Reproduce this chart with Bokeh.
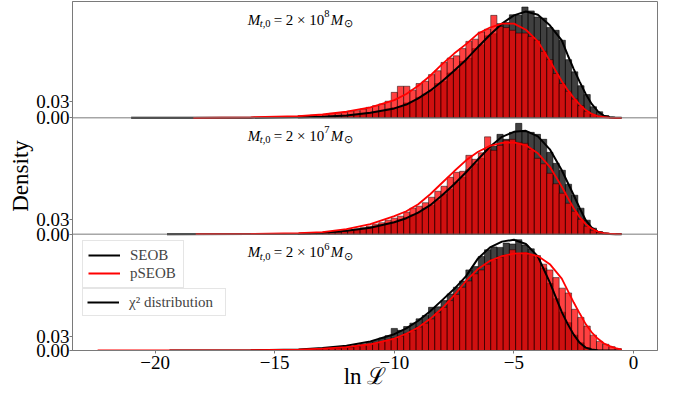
import numpy as np
from bokeh.plotting import figure
from bokeh.models import (Range1d, FixedTicker, Label, Legend, LegendItem, Span,
                          CustomJSTickFormatter)
from bokeh.embed import file_html
from bokeh.resources import INLINE

# ---------------- data ----------------
mass_exponents = ["8", "7", "6"]          # top to bottom
x_ticks = [-20, -15, -10, -5, 0]
y_ticks = [0.0, 0.03]

bin_first_center = -13.90
bin_width = 0.26

seob_hist = {
    "8": [0.001, 0.001, 0.002, 0.002, 0.002, 0.003, 0.003, 0.004,
          0.005, 0.006, 0.008, 0.009, 0.011, 0.012, 0.016, 0.018,
          0.020, 0.027, 0.030, 0.037, 0.043, 0.050, 0.062, 0.066,
          0.081, 0.087, 0.102, 0.108, 0.125, 0.132, 0.148, 0.152,
          0.170, 0.172, 0.186, 0.185, 0.200, 0.193, 0.182, 0.180,
          0.163, 0.158, 0.140, 0.105, 0.083, 0.058, 0.042, 0.020,
          0.011, 0.004, 0.001, 0.000],
    "7": [0.001, 0.001, 0.002, 0.003, 0.003, 0.004, 0.005, 0.006,
          0.008, 0.010, 0.011, 0.014, 0.016, 0.019, 0.022, 0.024,
          0.029, 0.033, 0.039, 0.044, 0.052, 0.058, 0.068, 0.080,
          0.090, 0.104, 0.114, 0.129, 0.141, 0.152, 0.170, 0.176,
          0.200, 0.190, 0.204, 0.222, 0.205, 0.204, 0.200, 0.190,
          0.164, 0.142, 0.128, 0.100, 0.078, 0.052, 0.028, 0.012,
          0.005, 0.001, 0.0005, 0.0],
    "6": [0.002, 0.002, 0.003, 0.004, 0.004, 0.005, 0.006, 0.008,
          0.009, 0.012, 0.014, 0.017, 0.021, 0.026, 0.031, 0.046,
          0.042, 0.050, 0.057, 0.066, 0.073, 0.090, 0.091, 0.104,
          0.118, 0.132, 0.145, 0.168, 0.175, 0.196, 0.210, 0.216,
          0.215, 0.224, 0.222, 0.231, 0.220, 0.212, 0.195, 0.172,
          0.140, 0.108, 0.080, 0.058, 0.032, 0.016, 0.006, 0.002,
          0.0005, 0.0, 0.0, 0.0],
}

pseob_hist = {
    "8": [0.004, 0.004, 0.005, 0.006, 0.006, 0.008, 0.008, 0.010,
          0.012, 0.013, 0.016, 0.019, 0.022, 0.025, 0.030, 0.046,
          0.057, 0.057, 0.050, 0.062, 0.066, 0.078, 0.085, 0.100,
          0.108, 0.112, 0.125, 0.138, 0.142, 0.155, 0.160, 0.185,
          0.165, 0.163, 0.158, 0.153, 0.153, 0.147, 0.140, 0.120,
          0.105, 0.080, 0.062, 0.048, 0.034, 0.022, 0.012, 0.006,
          0.003, 0.001, 0.001, 0.0005],
    "7": [0.001, 0.001, 0.002, 0.002, 0.003, 0.003, 0.004, 0.006,
          0.008, 0.010, 0.013, 0.016, 0.020, 0.023, 0.028, 0.032,
          0.036, 0.044, 0.052, 0.056, 0.063, 0.074, 0.086, 0.096,
          0.114, 0.124, 0.126, 0.158, 0.150, 0.163, 0.195, 0.168,
          0.178, 0.188, 0.190, 0.184, 0.182, 0.170, 0.152, 0.141,
          0.122, 0.101, 0.082, 0.062, 0.046, 0.030, 0.016, 0.008,
          0.004, 0.002, 0.001, 0.0005],
    "6": [0.002, 0.002, 0.003, 0.003, 0.004, 0.005, 0.005, 0.006,
          0.007, 0.009, 0.011, 0.013, 0.016, 0.019, 0.022, 0.026,
          0.030, 0.036, 0.042, 0.049, 0.057, 0.066, 0.079, 0.090,
          0.104, 0.117, 0.132, 0.145, 0.160, 0.168, 0.180, 0.190,
          0.195, 0.199, 0.210, 0.202, 0.204, 0.200, 0.198, 0.180,
          0.168, 0.152, 0.130, 0.120, 0.086, 0.069, 0.051, 0.032,
          0.019, 0.013, 0.008, 0.004],
}

curve_x = [-16, -14, -13, -12, -11, -10, -9.5, -9, -8.5, -8, -7.5, -7, -6.5,
           -6, -5.5, -5, -4.5, -4, -3.5, -3, -2.75, -2.5, -2.25, -2, -1.75,
           -1.5, -1.25, -1.0, -0.75, -0.5]

seob_curve_start = {"8": -21.0, "7": -19.5, "6": -19.4}
pseob_curve_start = {"8": -18.4, "7": -18.3, "6": -22.4}

seob_curve = {
    "8": [0.0003, 0.001, 0.002, 0.004, 0.009, 0.017, 0.024, 0.035, 0.049, 0.066,
          0.085, 0.105, 0.128, 0.150, 0.170, 0.185, 0.192, 0.186, 0.167, 0.140,
          0.113, 0.088, 0.065, 0.043, 0.025, 0.012, 0.004, 0.001, 0.0, 0.0],
    "7": [0.0003, 0.001, 0.003, 0.007, 0.013, 0.024, 0.032, 0.043, 0.058, 0.078,
          0.100, 0.124, 0.150, 0.175, 0.195, 0.205, 0.207, 0.196, 0.170, 0.128,
          0.103, 0.078, 0.052, 0.028, 0.013, 0.005, 0.002, 0.0005, 0.0, 0.0],
    "6": [0.0005, 0.002, 0.005, 0.010, 0.019, 0.034, 0.046, 0.062, 0.082, 0.105,
          0.128, 0.155, 0.192, 0.215, 0.227, 0.231, 0.222, 0.196, 0.142, 0.080,
          0.055, 0.033, 0.016, 0.006, 0.002, 0.0005, 0.0, 0.0, 0.0, 0.0],
}

pseob_curve = {
    "8": [0.001, 0.003, 0.006, 0.011, 0.019, 0.032, 0.043, 0.058, 0.076, 0.097,
          0.116, 0.133, 0.152, 0.163, 0.170, 0.170, 0.159, 0.138, 0.103, 0.066,
          0.050, 0.036, 0.024, 0.014, 0.007, 0.003, 0.0015, 0.0005, 0.0, 0.0],
    "7": [0.0005, 0.002, 0.004, 0.010, 0.020, 0.036, 0.046, 0.060, 0.080, 0.103,
          0.126, 0.148, 0.165, 0.177, 0.183, 0.184, 0.178, 0.162, 0.135, 0.095,
          0.073, 0.052, 0.034, 0.020, 0.011, 0.005, 0.002, 0.001, 0.0003, 0.0],
    "6": [0.0005, 0.002, 0.004, 0.007, 0.013, 0.025, 0.035, 0.048, 0.066, 0.088,
          0.115, 0.145, 0.170, 0.187, 0.197, 0.202, 0.203, 0.197, 0.180, 0.150,
          0.125, 0.100, 0.077, 0.055, 0.038, 0.025, 0.015, 0.009, 0.005, 0.002],
}

# ---------------- styling ----------------
SERIF = "Liberation Serif"
FRAME = "#7a7a7a"
n_pan = len(mass_exponents)

p = figure(width=667, height=391,
           x_range=Range1d(-23.45, 1.0), y_range=Range1d(0, n_pan),
           output_backend="svg", toolbar_location=None,
           min_border_left=72, min_border_right=10,
           min_border_top=1, min_border_bottom=41)
p.xgrid.visible = False
p.ygrid.visible = False
p.outline_line_color = FRAME
p.outline_line_width = 1
p.outline_line_alpha = 1.0


def mass_label(x, y, exponent, rname):
    pieces = [
        (0.0, 0, "M", "15px", "italic"),
        (12.0, -4, "t", "10.5px", "italic"),
        (15.0, -4, ",0", "10.5px", "normal"),
        (26.0, 0, "= 2 \u00d7 10", "15px", "normal"),
        (76.5, 6, exponent, "10.5px", "normal"),
        (83.0, 0, "M", "15px", "italic"),
        (96.0, -4, "\u2299", "10.5px", "normal"),
    ]
    for dx, dy, txt, size, style in pieces:
        p.add_layout(Label(x=x, y=y, x_offset=dx, y_offset=dy, text=txt,
                           y_range_name=rname,
                           text_font=SERIF, text_font_size=size,
                           text_font_style=style, text_color="black",
                           text_baseline="alphabetic", text_align="left"))


ymaxes_bottom_up = []
tick_positions = []
bottom_renderers = {}
for i, exp in enumerate(mass_exponents):
    j = n_pan - 1 - i  # panel index counted from the bottom
    s_h = seob_hist[exp]
    r_h = pseob_hist[exp]
    ymax = max(max(s_h), max(r_h)) * 1.05
    rname = "panel" + exp
    p.extra_y_ranges[rname] = Range1d(-j * ymax, (n_pan - j) * ymax)

    centers = bin_first_center + bin_width * np.arange(len(s_h))
    left = centers - bin_width / 2
    right = centers + bin_width / 2
    p.quad(left=left, right=right, bottom=0, top=s_h, y_range_name=rname,
           fill_color="black", fill_alpha=0.75, line_color="black",
           line_alpha=0.7, line_width=0.8)
    p.quad(left=left, right=right, bottom=0, top=r_h, y_range_name=rname,
           fill_color="red", fill_alpha=0.75, line_color="black",
           line_alpha=0.6, line_width=0.8)

    sx = [seob_curve_start[exp]] + curve_x
    sy = [0.0] + seob_curve[exp]
    rx = [pseob_curve_start[exp]] + curve_x
    ry = [0.0] + pseob_curve[exp]
    rb = p.line(sx, sy, y_range_name=rname, line_color="black", line_width=2)
    rr = p.line(rx, ry, y_range_name=rname, line_color="red", line_width=1.8)
    if j == 0:
        bottom_renderers = {"seob": rb, "pseob": rr}

    mass_label(-16.13, ymax * 0.845, exp, rname)

for j in range(n_pan):
    exp = mass_exponents[n_pan - 1 - j]
    ymax = max(max(seob_hist[exp]), max(pseob_hist[exp])) * 1.05
    ymaxes_bottom_up.append(ymax)
    for t in y_ticks:
        tick_positions.append(j + t / ymax)
    if j > 0:
        p.add_layout(Span(location=j, dimension="width", line_color=FRAME,
                          line_width=1))

yax = p.yaxis[0]
yax.ticker = FixedTicker(ticks=tick_positions)
yax.formatter = CustomJSTickFormatter(
    args=dict(ymax=ymaxes_bottom_up),
    code="const j = Math.floor(tick + 1e-9); return ((tick - j) * ymax[j]).toFixed(2);")
yax.major_label_text_font = SERIF
yax.major_label_text_font_size = "19px"
yax.major_label_text_color = "black"
yax.major_tick_out = 3
yax.major_tick_in = 0
yax.minor_tick_line_color = None
yax.major_tick_line_color = FRAME
yax.axis_line_color = FRAME
yax.major_label_standoff = 0
yax.axis_label = "Density"
yax.axis_label_text_font = SERIF
yax.axis_label_text_font_size = "23px"
yax.axis_label_text_font_style = "normal"
yax.axis_label_text_color = "black"
yax.axis_label_standoff = 0

xax = p.xaxis[0]
xax.ticker = FixedTicker(ticks=x_ticks)
xax.major_label_overrides = {t: ("\u2212" + str(abs(t)) if t < 0 else str(t)) for t in x_ticks}
xax.major_label_text_font = SERIF
xax.major_label_text_font_size = "19px"
xax.major_label_text_color = "black"
xax.major_tick_out = 3
xax.major_tick_in = 0
xax.minor_tick_line_color = None
xax.major_tick_line_color = FRAME
xax.axis_line_color = FRAME
xax.major_label_standoff = 2
xax.axis_label = "ln \u2112"
xax.axis_label_text_font = SERIF
xax.axis_label_text_font_size = "23px"
xax.axis_label_text_font_style = "normal"
xax.axis_label_text_color = "black"
xax.axis_label_standoff = -8

common = dict(label_text_font=SERIF, label_text_font_size="15px",
              glyph_width=32, glyph_height=18, label_height=18,
              label_standoff=10, spacing=0, margin=0,
              border_line_color="#cccccc", border_line_width=1,
              background_fill_alpha=0.8)
leg1 = Legend(items=[LegendItem(label="SEOB", renderers=[bottom_renderers["seob"]]),
                     LegendItem(label="pSEOB", renderers=[bottom_renderers["pseob"]])],
              location=(10, 62), padding=5, label_width=48, **common)
leg2 = Legend(items=[LegendItem(label="\u03c7\u00b2 distribution", renderers=[bottom_renderers["seob"]])],
              location=(10, 34), padding=4, label_width=92, **common)
p.add_layout(leg1, "center")
p.add_layout(leg2, "center")

open("out.html", "w").write(file_html(p, INLINE))
